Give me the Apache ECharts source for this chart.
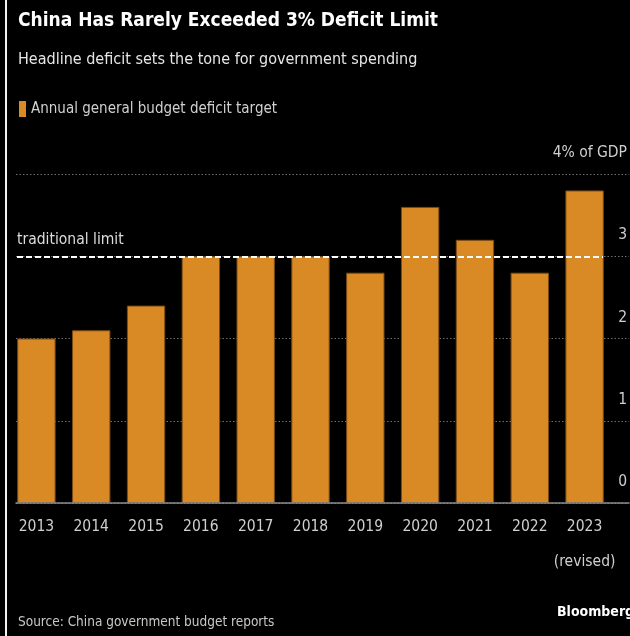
<!DOCTYPE html>
<html><head><meta charset="utf-8">
<script src="https://cdn.jsdelivr.net/npm/echarts/dist/echarts.min.js"></script>
<style>
html,body{margin:0;padding:0;background:#000;}
#wrap{position:relative;width:630px;height:636px;overflow:hidden;}
#c{width:630px;height:636px;}
#edge{position:absolute;left:5px;top:0;width:2px;height:636px;background:#f2f2f2;}
</style>
</head><body>
<div id="wrap"><div id="c"></div><div id="edge"></div></div>
<script>
const categories = ['2013','2014','2015','2016','2017','2018','2019','2020','2021','2022','2023\n(revised)'];
const deficitTarget = [2.0, 2.1, 2.4, 3.0, 3.0, 3.0, 2.8, 3.6, 3.2, 2.8, 3.8];
const traditionalLimit = 3;
const yMin = 0, yMax = 4, yStep = 1;
const seriesName = 'Annual general budget deficit target';
const titleText = 'China Has Rarely Exceeded 3% Deficit Limit';
const subtitleText = 'Headline deficit sets the tone for government spending';
const sourceText = 'Source: China government budget reports';
const limitLabel = 'traditional limit';

const FONT = "'DejaVu Sans Condensed', 'Liberation Sans Narrow', sans-serif";
const chart = echarts.init(document.getElementById('c'), null, {renderer:'canvas'});
const gTop = 174, gBottom = 133;

chart.setOption({
  backgroundColor: '#000',
  animation: false,
  textStyle: {fontFamily: FONT},
  title: [
    {text: titleText, left: 18, top: 12, padding: 0, textStyle: {color:'#fff', fontSize: 19, fontWeight:'bold', fontFamily: FONT}},
    {text: subtitleText, left: 18, top: 52, padding: 0, textStyle: {color:'#e6e6e6', fontSize: 16, fontWeight:'normal', fontFamily: FONT}},
    {text: sourceText, left: 18, top: 615, padding: 0, textStyle: {color:'#c8c8c8', fontSize: 13.5, fontWeight:'normal', fontFamily: FONT}},
    {text: 'Bloomberg', left: 557, top: 605, padding: 0, textStyle: {color:'#fff', fontSize: 14, fontWeight:'bold', fontFamily: FONT}}
  ],
  legend: {
    data: [seriesName], left: 19, top: 101, padding: 0, icon: 'rect', itemWidth: 7, itemHeight: 16, itemGap: 5,
    itemStyle: {borderWidth: 0},
    textStyle: {color:'#d0d0d0', fontSize: 15, fontFamily: FONT}, selectedMode: false
  },
  grid: [
    {left: 9, right: 18, top: gTop, bottom: gBottom},
    {left: 16, right: -5, top: gTop, bottom: gBottom},
    {left: 17, right: 27, top: gTop, bottom: gBottom}
  ],
  xAxis: [
    {type:'category', gridIndex:0, data: categories, axisLine:{show:false}, axisTick:{show:false},
     axisLabel:{color:'#cfcfcf', fontSize:15.5, margin:6, lineHeight:35, interval:0, fontFamily: FONT}},
    {type:'value', gridIndex:1, min:0, max:1, axisLine:{show:true, lineStyle:{color:'#8c8c8c', width:1.5}},
     axisTick:{show:false}, axisLabel:{show:false}, splitLine:{show:false}, z: 3},
    {type:'category', gridIndex:2, data: categories, show:false}
  ],
  yAxis: [
    {type:'value', gridIndex:0, min:yMin, max:yMax, interval:yStep, show:false},
    {type:'value', gridIndex:1, min:yMin, max:yMax, interval:yStep, position:'right',
     axisLine:{show:false}, axisTick:{show:false},
     splitLine:{show:true, lineStyle:{color:'#6e6e6e', type:[1.5,2], width:1.2}},
     axisLabel:{inside:true, margin:2, color:'#cfcfcf', fontSize:15.5, verticalAlign:'bottom', padding:[0,0,13,0], fontFamily: FONT,
       formatter: v => v === yMax ? v + '% of GDP' : String(v)}},
    {type:'value', gridIndex:2, min:yMin, max:yMax, interval:yStep, show:false}
  ],
  series: [
    {name: seriesName, type:'bar', xAxisIndex:0, yAxisIndex:0, data: deficitTarget, barCategoryGap:'30%',
     itemStyle:{color:'#DA8A24', borderColor:'#7a4c14', borderWidth:1}, z: 2},
    {name: 'limit', type:'line', xAxisIndex:2, yAxisIndex:2, data: [], z: 5,
     markLine:{symbol:'none', silent:true, animation:false,
       lineStyle:{color:'#ffffff', type:[6,3], width:2},
       label:{show:true, position:'insideStartTop', formatter: limitLabel, color:'#dcdcdc', fontSize:15.5, distance:[0,8], fontFamily: FONT},
       data:[{yAxis: traditionalLimit}]}}
  ]
});
</script>
</body></html>
